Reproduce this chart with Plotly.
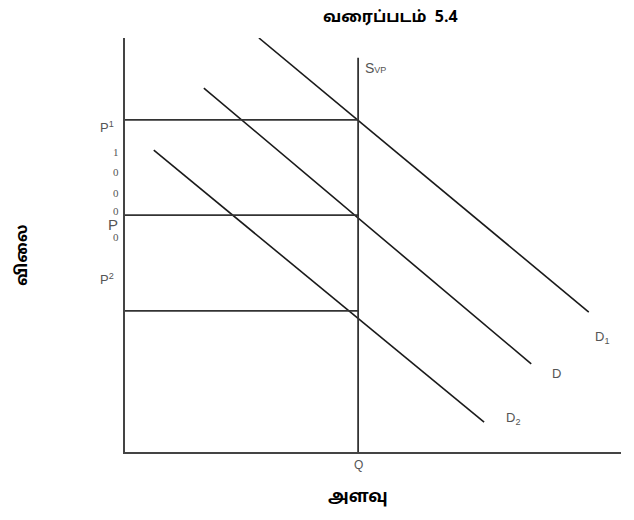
import plotly.graph_objects as go

# Data (diagram coordinates, 0-100 scale)
q_supply = 47.0
supply_top = 95.2
price_levels = {"P1": 80.2, "P0": 57.2, "P2": 34.1}
d1_x = [27.0, 93.5]
d1_y = [100.0, 33.8]
d_x = [15.9, 81.9]
d_y = [87.9, 21.3]
d2_x = [5.8, 72.4]
d2_y = [72.9, 7.2]

W, H = 634, 520
# page offset compensation (body margin)
OX, OY = 7, 8
L_s, T_s, R_s, B_s = 124, 38, 620, 452   # plot area in screen pixels
L = L_s - OX
T = T_s - OY
pw = R_s - L_s
ph = B_s - T_s
R = W - L - pw
B = H - T - ph

fig = go.Figure()
line_col = "#1a1a1a"
for xs, ys in [(d1_x, d1_y), (d_x, d_y), (d2_x, d2_y)]:
    fig.add_trace(go.Scatter(x=xs, y=ys, mode="lines",
                             line=dict(color=line_col, width=1.6),
                             hoverinfo="skip", showlegend=False, cliponaxis=False))
fig.add_trace(go.Scatter(x=[q_supply, q_supply], y=[0, supply_top], mode="lines",
                         line=dict(color="#333", width=1.8),
                         hoverinfo="skip", showlegend=False, cliponaxis=False))
for name, p in price_levels.items():
    fig.add_trace(go.Scatter(x=[0, q_supply], y=[p, p], mode="lines",
                             line=dict(color="#333", width=1.8),
                             hoverinfo="skip", showlegend=False, cliponaxis=False))


def px(sx, sy):
    return (sx - L_s) / pw, (B_s - sy) / ph


gray = "#555555"
sans = "Liberation Sans, Arial, sans-serif"
serif = "Liberation Serif, serif"
labels = [
    (106, 127, "P<sup>1</sup>", sans, 13),
    (115, 152, "1", serif, 11),
    (115, 172, "0", serif, 11),
    (115, 193, "0", serif, 11),
    (115, 211, "0", serif, 11),
    (112, 224, "P", sans, 15),
    (115, 237, "0", serif, 11),
    (106, 279, "P<sup>2</sup>", sans, 13),
    (357, 465, "Q", sans, 12),
    (601, 337, "D<sub>1</sub>", sans, 13),
    (555, 373, "D", sans, 13),
    (512, 418, "D<sub>2</sub>", sans, 13),
    (374, 68, "S<span style='font-size:9px'>VP</span>", sans, 14),
]
for sx, sy, txt, fam, sz in labels:
    x, y = px(sx, sy)
    fig.add_annotation(x=x, y=y, xref="paper", yref="paper", text=txt, showarrow=False,
                       xanchor="center", yanchor="middle",
                       font=dict(family=fam, size=sz, color=gray))

tamil_font = "Noto Sans Tamil, Noto Sans, Liberation Sans, sans-serif"
for sx, sy, txt, sz, ang in [(389, 18, "<b>வரைப்படம்  5.4</b>", 16, 0),
                             (357, 497, "<b>அளவு</b>", 17, 0),
                             (22, 255, "<b>விலை</b>", 16, -90)]:
    x, y = px(sx, sy)
    fig.add_annotation(x=x, y=y, xref="paper", yref="paper", text=txt, showarrow=False,
                       xanchor="center", yanchor="middle", textangle=ang,
                       font=dict(family=tamil_font, size=sz, color="black"))

fig.update_layout(
    width=W, height=H,
    margin=dict(l=L, r=R, t=T, b=B),
    paper_bgcolor="white", plot_bgcolor="white",
    xaxis=dict(range=[0, 100], showgrid=False, zeroline=False, showticklabels=False,
               showline=True, linecolor="#444", linewidth=2, ticks=""),
    yaxis=dict(range=[0, 100], showgrid=False, zeroline=False, showticklabels=False,
               showline=True, linecolor="#444", linewidth=2, ticks=""),
)
fig.write_html("out.html")
